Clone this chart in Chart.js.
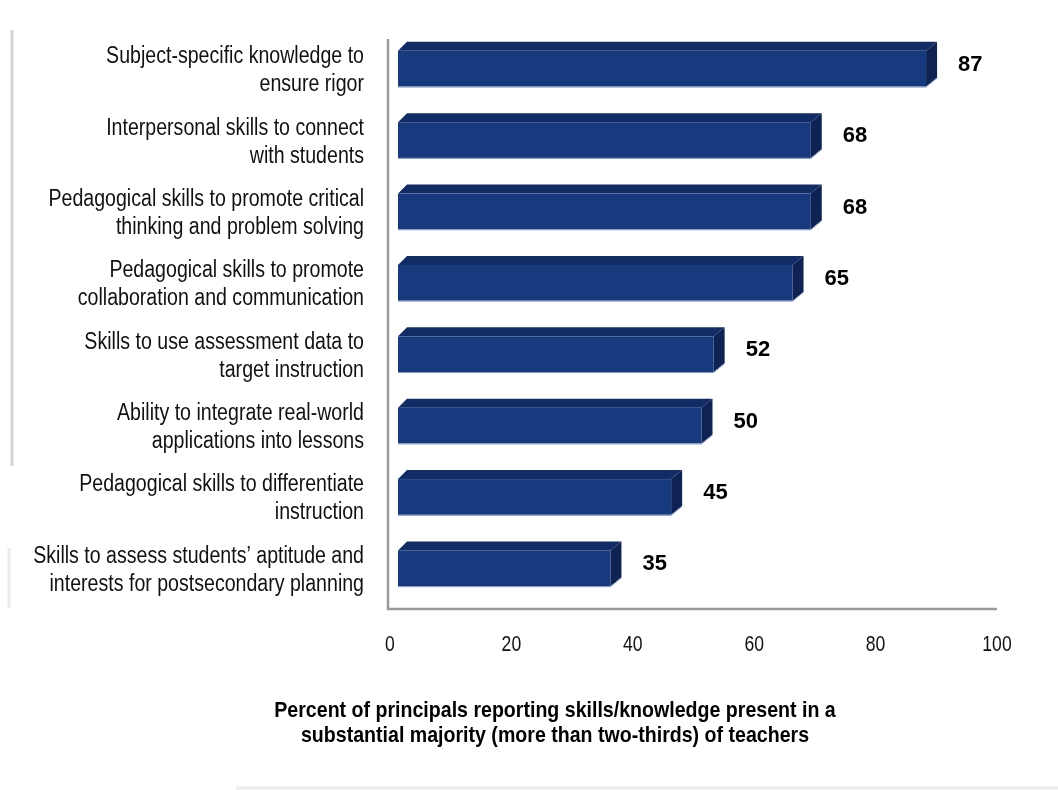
<!DOCTYPE html>
<html>
<head>
<meta charset="utf-8">
<script src="https://cdn.jsdelivr.net/npm/chart.js@4.4.1/dist/chart.umd.min.js"></script>
<style>
  html, body { margin: 0; padding: 0; background: #fff; }
  #wrap { width: 1058px; height: 790px; position: relative; }
</style>
</head>
<body>
<div id="wrap"><canvas id="chart" width="1058" height="790"></canvas></div>
<script>
// --- DATA ---
const categories = [
    ['Subject-specific knowledge to', 'ensure rigor'],
    ['Interpersonal skills to connect', 'with students'],
    ['Pedagogical skills to promote critical', 'thinking and problem solving'],
    ['Pedagogical skills to promote', 'collaboration and communication'],
    ['Skills to use assessment data to', 'target instruction'],
    ['Ability to integrate real-world', 'applications into lessons'],
    ['Pedagogical skills to differentiate', 'instruction'],
    ['Skills to assess students\u2019 aptitude and', 'interests for postsecondary planning']
];
const values = [87, 68, 68, 65, 52, 50, 45, 35];
const xTicks = [0, 20, 40, 60, 80, 100];
const axisTitle = [
    'Percent of principals reporting skills/knowledge present in a',
    'substantial majority (more than two-thirds) of teachers'
];

const FONT = "'Liberation Sans', Arial, sans-serif";

// --- COLOURS ---
const frontColor = '#173a7f';
const topColor = '#122c66';
const sideColor = '#0e2353';
const edgeColor = '#7d93c0';
const wallColor = '#9a9a9a';

// the source uses a condensed face, so squeeze the text horizontally
const drawText = (ctx, text, x, y, align, font, sx) => {
    ctx.save();
    ctx.font = font;
    ctx.textAlign = align;
    ctx.textBaseline = 'middle';
    ctx.translate(x, y);
    ctx.scale(sx, 1);
    ctx.fillText(text, 0, 0);
    ctx.restore();
};

const bar3d = {
    id: 'bar3d',
    beforeDraw(chart) {
        const ctx = chart.ctx;
        ctx.save();
        // faint slide frame shadow
        ctx.strokeStyle = '#d4d4d4';
        ctx.lineWidth = 3;
        ctx.beginPath();
        ctx.moveTo(12, 30); ctx.lineTo(12, 466);
        ctx.stroke();
        ctx.strokeStyle = '#ececec';
        ctx.beginPath();
        ctx.moveTo(9, 548); ctx.lineTo(9, 608);
        ctx.moveTo(236, 788); ctx.lineTo(1058, 788);
        ctx.stroke();
        ctx.restore();
    },
    beforeDatasetsDraw(chart) {
        const { ctx, chartArea } = chart;
        ctx.save();
        ctx.strokeStyle = wallColor;
        ctx.lineWidth = 2.5;
        ctx.beginPath();
        ctx.moveTo(chartArea.left - 2, chartArea.top + 6);
        ctx.lineTo(chartArea.left - 2, chartArea.bottom + 5);
        ctx.lineTo(chartArea.right, chartArea.bottom + 5);
        ctx.stroke();
        ctx.restore();
    },
    afterDatasetsDraw(chart) {
        const ctx = chart.ctx;
        const meta = chart.getDatasetMeta(0);
        const xScale = chart.scales.x, yScale = chart.scales.y;
        const dx = 11, dy = 9, shift = 8;
        ctx.save();
        meta.data.forEach((el, i) => {
            const { x, y, base, height } = el.getProps(['x', 'y', 'base', 'height'], true);
            const x0 = base + shift, x1 = x + shift;
            const top = y - height / 2, bot = y + height / 2;

            // top face
            ctx.fillStyle = topColor;
            ctx.beginPath();
            ctx.moveTo(x0, top);
            ctx.lineTo(x0 + dx - 2, top - dy);
            ctx.lineTo(x1 + dx, top - dy);
            ctx.lineTo(x1, top);
            ctx.closePath();
            ctx.fill();

            // right side face
            ctx.fillStyle = sideColor;
            ctx.beginPath();
            ctx.moveTo(x1, top);
            ctx.lineTo(x1 + dx, top - dy);
            ctx.lineTo(x1 + dx, bot - dy);
            ctx.lineTo(x1, bot);
            ctx.closePath();
            ctx.fill();

            // front face
            ctx.fillStyle = frontColor;
            ctx.fillRect(x0, top, x1 - x0, height);

            // light lower edge
            ctx.strokeStyle = edgeColor;
            ctx.lineWidth = 1;
            ctx.beginPath();
            ctx.moveTo(x0, bot + 0.5);
            ctx.lineTo(x1, bot + 0.5);
            ctx.lineTo(x1 + dx, bot - dy + 0.5);
            ctx.stroke();

            // value label
            ctx.fillStyle = '#000';
            drawText(ctx, String(values[i]), x + 40, y - 4, 'left', 'bold 22px ' + FONT, 1);
        });

        ctx.fillStyle = '#111';
        // category labels
        categories.forEach((lines, i) => {
            const cy = yScale.getPixelForTick(i) + 2;
            lines.forEach((line, k) => {
                drawText(ctx, line, 364, cy + (k - (lines.length - 1) / 2) * 28, 'right', '23.5px ' + FONT, 0.833);
            });
        });

        // x tick labels
        xTicks.forEach(v => {
            drawText(ctx, String(v), xScale.getPixelForValue(v), 645, 'center', '22px ' + FONT, 0.8);
        });

        // axis title
        ctx.fillStyle = '#000';
        axisTitle.forEach((line, k) => {
            drawText(ctx, line, 555, 711 + k * 25, 'center', 'bold 22px ' + FONT, 0.89);
        });
        ctx.restore();
    }
};

new Chart(document.getElementById('chart').getContext('2d'), {
    type: 'bar',
    data: {
        labels: categories,
        datasets: [{
            data: values,
            backgroundColor: 'rgba(0,0,0,0)',
            borderWidth: 0,
            barPercentage: 0.5,
            categoryPercentage: 1.0
        }]
    },
    options: {
        indexAxis: 'y',
        responsive: false,
        animation: false,
        layout: { padding: { top: 33, right: 61, bottom: 0, left: 0 } },
        plugins: {
            legend: { display: false },
            tooltip: { enabled: false },
            title: { display: false }
        },
        scales: {
            x: {
                min: 0,
                max: 100,
                afterBuildTicks: (scale) => { scale.ticks = xTicks.map(v => ({ value: v })); },
                afterFit: (scale) => { scale.height = 186; },
                grid: { display: false, drawTicks: false },
                border: { display: false },
                ticks: { display: false }
            },
            y: {
                afterFit: (scale) => { scale.width = 390; },
                grid: { display: false, drawTicks: false },
                border: { display: false },
                ticks: { display: false }
            }
        }
    },
    plugins: [bar3d]
});
</script>
</body>
</html>
